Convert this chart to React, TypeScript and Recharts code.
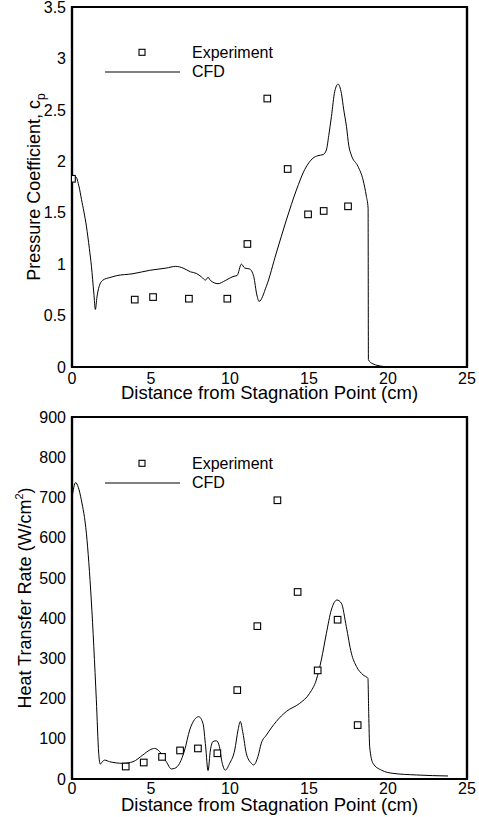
import React from 'react';
import { ComposedChart, Line, Scatter, XAxis, YAxis, Legend, ReferenceArea } from 'recharts';

const FONT = '"Liberation Sans", Arial, Helvetica, sans-serif';

// shared x axis (distance, cm)
const xMajor = [0, 5, 10, 15, 20, 25];

// pressure coefficient - experiment
const cpExpX = [0, 3.97, 5.13, 7.4, 9.83, 11.1, 12.36, 13.65, 14.94, 15.93, 17.47];
const cpExpY = [1.83, 0.655, 0.68, 0.664, 0.664, 1.196, 2.61, 1.925, 1.484, 1.517, 1.562];

// pressure coefficient - CFD
const cpCfdX = [
  0, 0.23, 0.45, 0.6, 0.91, 1.1, 1.23, 1.38, 1.48, 1.58, 1.71, 1.96, 2.4, 2.8, 3.86, 4.92,
  5.97, 6.56, 7.03, 7.5, 7.87, 8.2, 8.45, 8.61, 8.76, 9.24, 9.7, 10.19, 10.45, 10.72, 10.93,
  11.24, 11.5, 11.7, 11.84, 12.3, 12.93, 13.57, 14.2, 14.73, 15.25, 15.57, 15.89, 16.1, 16.25,
  16.42, 16.63, 16.84, 17.05, 17.2, 17.37, 17.52, 17.68, 18.1, 18.42, 18.63, 18.74, 18.76,
  19.05, 19.68, 20.1, 20.5,
];
const cpCfdY = [
  1.82, 1.85, 1.75, 1.63, 1.37, 1.15, 0.98, 0.72, 0.56, 0.68, 0.78, 0.845, 0.87, 0.887, 0.907,
  0.94, 0.962, 0.978, 0.962, 0.925, 0.91, 0.875, 0.845, 0.872, 0.842, 0.81, 0.84, 0.88, 0.89,
  1.0, 0.962, 0.953, 0.88, 0.7, 0.638, 0.784, 1.108, 1.43, 1.72, 1.92, 2.03, 2.055, 2.065, 2.11,
  2.25, 2.435, 2.68, 2.75, 2.66, 2.5, 2.34, 2.15, 2.06, 1.95, 1.82, 1.66, 1.545, 0.07, 0.03,
  0.006, 0, 0,
];
const cpTicks = [0, 0.5, 1, 1.5, 2, 2.5, 3, 3.5];

// heat transfer rate - experiment
const qExpX = [3.4, 4.54, 5.7, 6.84, 7.97, 9.2, 10.46, 11.73, 13.0, 14.28, 15.55, 16.81, 18.08];
const qExpY = [31, 41, 55, 71, 76, 64, 221, 380, 693, 465, 270, 396, 134];

// heat transfer rate - CFD
const qCfdX = [
  0, 0.23, 0.4, 0.59, 0.91, 1.22, 1.54, 1.69, 1.79, 1.9, 2.07, 2.38, 3.23, 3.86, 4.49, 4.92,
  5.23, 5.55, 5.97, 6.29, 6.5, 6.81, 7.13, 7.45, 7.76, 8.02, 8.29, 8.46, 8.61, 8.76, 8.92, 9.14,
  9.3, 9.51, 9.7, 9.98, 10.3, 10.51, 10.65, 10.82, 11.03, 11.35, 11.5, 11.77, 11.98, 12.3,
  12.93, 13.57, 14.41, 15.04, 15.46, 15.78, 16.1, 16.41, 16.77, 17.05, 17.36, 17.68, 18.0,
  18.42, 18.73, 18.78, 18.84, 19.05, 19.58, 20.32, 21.8, 23.8,
];
const qCfdY = [
  700, 737, 725, 694, 611, 445, 197, 64, 37, 42, 47, 43, 39, 43, 60, 72, 76, 68, 43, 25, 26.5,
  39, 72, 122, 148, 155, 138, 80, 21, 72, 93, 95, 85, 39, 22, 39, 72, 122, 143, 114, 64, 39, 35,
  56, 89, 109, 143, 168, 188, 213, 246, 296, 362, 420, 445, 437, 379, 313, 280, 259, 250, 163,
  80, 39, 22, 14, 10, 7.5,
];
const qTicks = [0, 100, 200, 300, 400, 500, 600, 700, 800, 900];

type Pt = { x: number; y: number };
const zip = (xs: number[], ys: number[]): Pt[] => xs.map((x, i) => ({ x, y: ys[i] }));

// minor tick positions for the inward tick marks
const steps = (lo: number, hi: number, step: number) => {
  const n = Math.round((hi - lo) / step);
  const out: number[] = [];
  for (let i = 0; i <= n; i++) out.push(Math.round((lo + i * step) * 1000) / 1000);
  return out;
};
const xMinor = steps(0, 25, 1);

const Square = (props: any) => {
  const { cx, cy } = props;
  if (cx == null || cy == null) return null;
  return <rect x={cx - 3.3} y={cy - 3.3} width={6.6} height={6.6} fill="#fff" stroke="#000" strokeWidth={1.1} />;
};

const XTitle = (props: any) => {
  const { viewBox, baseline } = props;
  const { x, y, width } = viewBox;
  return (
    <text x={x + width / 2} y={y + baseline} textAnchor="middle" fontSize={18.5} fontFamily={FONT} fill="#000">
      Distance from Stagnation Point (cm)
    </text>
  );
};

const YTitle = (props: any) => {
  const { viewBox, bx, kind } = props;
  const cy = viewBox.y + viewBox.height / 2;
  return (
    <text x={bx} y={cy} transform={`rotate(-90 ${bx} ${cy})`} textAnchor="middle" fontSize={18} fontFamily={FONT} fill="#000">
      {kind === 'cp' ? (
        <>
          Pressure Coefficient, c<tspan fontSize={12} dy={5}>p</tspan>
        </>
      ) : (
        <>
          Heat Transfer Rate (W/cm<tspan fontSize={11} dy={-8}>2</tspan>
          <tspan dy={8}>)</tspan>
        </>
      )}
    </text>
  );
};

const LegendBox = () => (
  <svg width={180} height={45} style={{ display: 'block', overflow: 'visible' }}>
    <rect x={42 - 3} y={12.3 - 3} width={6} height={6} fill="#fff" stroke="#000" strokeWidth={1.1} />
    <line x1={5} x2={80} y1={32} y2={32} stroke="#000" strokeWidth={1} />
    <text x={92} y={18} fontSize={16} fontFamily={FONT} fill="#000">Experiment</text>
    <text x={92} y={36.7} fontSize={16} fontFamily={FONT} fill="#000">CFD</text>
  </svg>
);

const tickStyle = { fontSize: 16, fill: '#000', fontFamily: FONT };

type PanelProps = {
  height: number;
  top: number;
  yMax: number;
  yMajor: number[];
  yMinorStep: number;
  xAxisH: number;
  xGap: number;
  titleBase: number;
  yTitleX: number;
  kind: 'cp' | 'q';
  legendTop: number;
  exp: Pt[];
  cfd: Pt[];
};

const Panel = (p: PanelProps) => {
  const yMinor = steps(0, p.yMax, p.yMinorStep);
  const yDom: [number, number] = [0, p.yMax];
  // mirrored helper axes: they only draw inward tick marks (and the top/right frame)
  const markX = (id: string, side: 'top' | 'bottom', ticks: number[], len: number, line: boolean) => (
    <XAxis
      xAxisId={id}
      type="number"
      domain={[0, 25]}
      allowDataOverflow
      ticks={ticks}
      interval={0}
      orientation={side}
      mirror
      height={1}
      tickSize={len}
      tickLine={{ stroke: '#000', strokeWidth: 1.4 }}
      tick={false}
      axisLine={line ? { stroke: '#000', strokeWidth: 2.2 } : false}
    />
  );
  const markY = (id: string, side: 'left' | 'right', ticks: number[], len: number, line: boolean) => (
    <YAxis
      yAxisId={id}
      type="number"
      domain={yDom}
      allowDataOverflow
      ticks={ticks}
      interval={0}
      orientation={side}
      mirror
      width={1}
      tickSize={len}
      tickLine={{ stroke: '#000', strokeWidth: 1.4 }}
      tick={false}
      axisLine={line ? { stroke: '#000', strokeWidth: 2.2 } : false}
    />
  );
  return (
    <ComposedChart width={479} height={p.height} margin={{ top: p.top, right: 12, bottom: 0, left: 0 }}>
      <XAxis
        dataKey="x"
        type="number"
        domain={[0, 25]}
        allowDataOverflow
        ticks={xMajor}
        interval={0}
        tickLine={false}
        tickSize={p.xGap}
        tickMargin={0}
        axisLine={{ stroke: '#000', strokeWidth: 2.2 }}
        tick={tickStyle}
        height={p.xAxisH}
        label={<XTitle baseline={p.titleBase} />}
      />
      <YAxis
        type="number"
        domain={yDom}
        allowDataOverflow
        ticks={p.yMajor}
        interval={0}
        tickLine={false}
        tickSize={5}
        tickMargin={1}
        axisLine={{ stroke: '#000', strokeWidth: 2.2 }}
        tick={tickStyle}
        width={72}
        label={<YTitle bx={p.yTitleX} kind={p.kind} />}
      />
      {markX('bMaj', 'bottom', xMajor, 9, false)}
      {markX('bMin', 'bottom', xMinor, 5, false)}
      {markX('tMaj', 'top', xMajor, 9, true)}
      {markX('tMin', 'top', xMinor, 5, false)}
      {markY('lMaj', 'left', p.yMajor, 9, false)}
      {markY('lMin', 'left', yMinor, 5, false)}
      {markY('rMaj', 'right', p.yMajor, 9, true)}
      {markY('rMin', 'right', yMinor, 5, false)}
      <ReferenceArea x1={0} x2={25} y1={0} y2={p.yMax} fill="none" stroke="#000" strokeWidth={2.2} ifOverflow="visible" />
      <Legend
        layout="vertical"
        align="center"
        verticalAlign="middle"
        content={() => <LegendBox />}
        wrapperStyle={{ position: 'absolute', left: 100, top: p.legendTop, width: 180, height: 45 }}
      />
      <Line
        data={p.cfd}
        dataKey="y"
        name="CFD"
        type="monotone"
        stroke="#000"
        strokeWidth={1}
        dot={false}
        activeDot={false}
        isAnimationActive={false}
      />
      <Scatter data={p.exp} dataKey="y" name="Experiment" shape={<Square />} isAnimationActive={false} />
    </ComposedChart>
  );
};

export default function App() {
  return (
    <div style={{ position: 'absolute', left: 0, top: 0, width: 479, height: 817, background: '#fff' }}>
      <Panel
        height={408}
        top={7}
        yMax={3.5}
        yMajor={cpTicks}
        yMinorStep={0.1}
        xAxisH={41}
        xGap={6}
        titleBase={31.5}
        yTitleX={40}
        kind="cp"
        legendTop={40}
        exp={zip(cpExpX, cpExpY)}
        cfd={zip(cpCfdX, cpCfdY)}
      />
      <Panel
        height={409}
        top={9}
        yMax={900}
        yMajor={qTicks}
        yMinorStep={20}
        xAxisH={38}
        xGap={3.5}
        titleBase={32}
        yTitleX={31}
        kind="q"
        legendTop={43}
        exp={zip(qExpX, qExpY)}
        cfd={zip(qCfdX, qCfdY)}
      />
    </div>
  );
}
